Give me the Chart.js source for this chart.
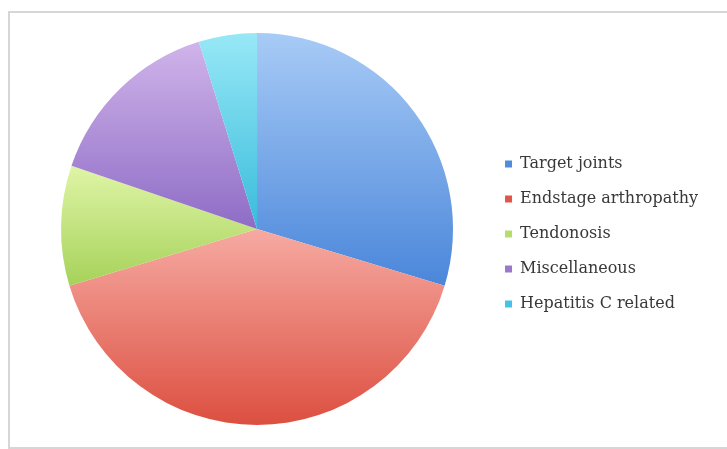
<!DOCTYPE html>
<html>
<head>
<meta charset="utf-8">
<script src="https://cdn.jsdelivr.net/npm/chart.js@4/dist/chart.umd.min.js"></script>
<style>
  html, body { margin: 0; padding: 0; background: #ffffff; overflow: hidden; }
  #wrap { position: relative; width: 727px; height: 449px; overflow: hidden; }
  #frame { position: absolute; left: 8px; top: 11px; width: 800px; height: 434px; border: 2px solid #d6d6d6; box-sizing: content-box; }
  #c { position: absolute; left: 0; top: 0; }
</style>
</head>
<body>
<div id="wrap">
  <div id="frame"></div>
  <canvas id="c" width="727" height="449"></canvas>
</div>
<script>
const categories = ["Target joints", "Endstage arthropathy", "Tendonosis", "Miscellaneous", "Hepatitis C related"];
const values = [29.7, 40.7, 9.9, 15.0, 4.8];
const topColors = ["#a8cbf6", "#f6aaa2", "#dff5a6", "#d0b4ea", "#98e8f6"];
const bottomColors = ["#4a86da", "#dc4f40", "#a6d25a", "#8e6cc6", "#38bcdc"];
const legendColors = ["#4f8ddc", "#e0564a", "#b6dc6e", "#9a78cc", "#44c4e2"];

const FONT_FAMILY = "'DejaVu Serif', serif";
const FONT_SIZE = 16;
const BOX = 7;
const LPAD = 19;
const LEGEND_LEFT = 484;

function sliceGradient(ctx) {
  const chart = ctx.chart;
  const i = ctx.dataIndex;
  const ca = chart.chartArea;
  if (!ca || i === undefined) return legendColors[i || 0];
  const cx = (ca.left + ca.right) / 2;
  const cy = (ca.top + ca.bottom) / 2;
  const r = Math.min(ca.right - ca.left, ca.bottom - ca.top) / 2;
  const total = values.reduce((a, b) => a + b, 0);
  let before = 0;
  for (let k = 0; k < i; k++) before += values[k];
  const a0 = -Math.PI / 2 + (before / total) * 2 * Math.PI;
  const a1 = a0 + (values[i] / total) * 2 * Math.PI;
  let ymin = cy, ymax = cy;
  const steps = 40;
  for (let s = 0; s <= steps; s++) {
    const a = a0 + (a1 - a0) * s / steps;
    const y = cy + r * Math.sin(a);
    ymin = Math.min(ymin, y);
    ymax = Math.max(ymax, y);
  }
  const g = chart.ctx.createLinearGradient(0, ymin, 0, ymax);
  g.addColorStop(0, topColors[i]);
  g.addColorStop(1, bottomColors[i]);
  return g;
}

// measure legend width to place legend precisely
const mctx = document.createElement("canvas").getContext("2d");
mctx.font = FONT_SIZE + "px " + FONT_FAMILY;
let maxText = 0;
categories.forEach(t => { maxText = Math.max(maxText, mctx.measureText(t).width); });
const legendW = Math.ceil(LPAD + BOX + FONT_SIZE / 2 + maxText + 10) + 2;
const padRight = Math.max(0, 727 - LEGEND_LEFT - legendW);

new Chart(document.getElementById("c"), {
  type: "pie",
  data: {
    labels: categories,
    datasets: [{
      data: values,
      backgroundColor: sliceGradient,
      borderWidth: 0
    }]
  },
  options: {
    responsive: false,
    animation: false,
    layout: { padding: { left: 28, top: 33, bottom: 24, right: padRight } },
    plugins: {
      tooltip: { enabled: false },
      legend: {
        position: "right",
        maxWidth: legendW,
        title: { display: true, text: " ", font: { size: 1, lineHeight: 1 }, padding: { top: 0, bottom: 9 } },
        labels: {
          boxWidth: BOX,
          boxHeight: BOX,
          padding: LPAD,
          color: "#383838",
          font: { family: FONT_FAMILY, size: FONT_SIZE },
          generateLabels: function(chart) {
            const items = Chart.controllers.pie.overrides.plugins.legend.labels.generateLabels(chart);
            items.forEach((it, k) => { it.fillStyle = legendColors[k]; it.strokeStyle = legendColors[k]; it.lineWidth = 0; });
            return items;
          }
        }
      }
    }
  }
});
</script>
</body>
</html>
